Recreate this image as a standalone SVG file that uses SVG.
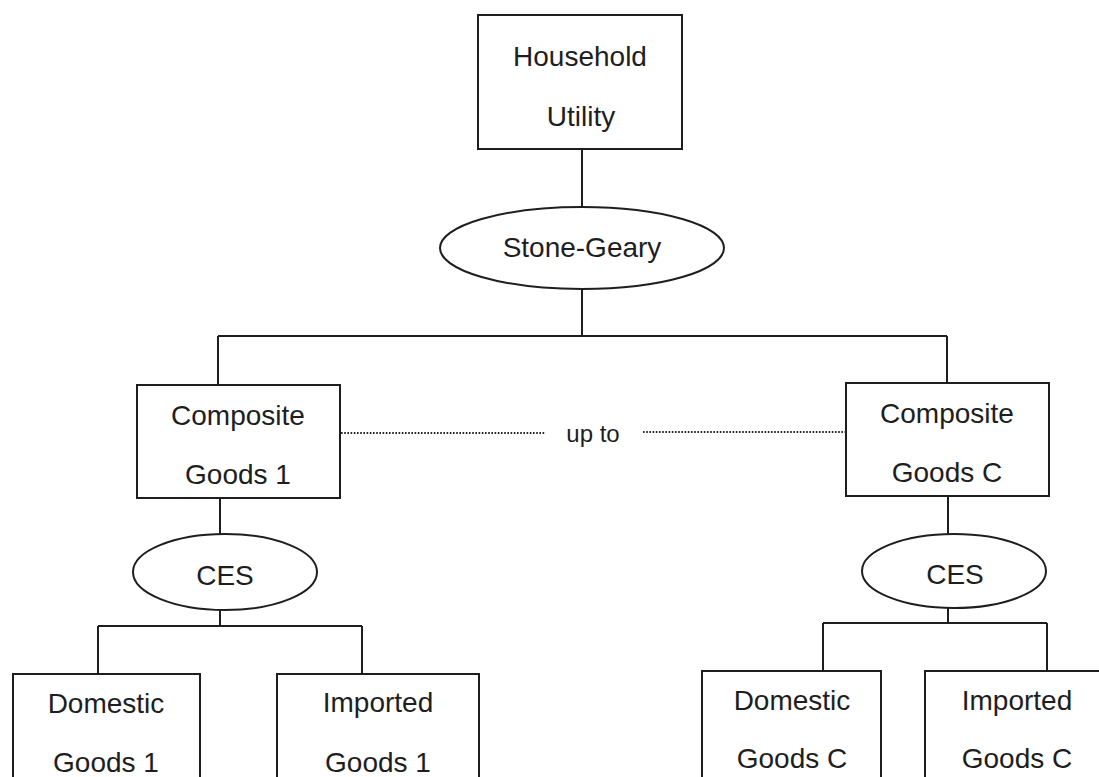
<svg xmlns="http://www.w3.org/2000/svg" width="1099" height="777" viewBox="0 0 1099 777">
<style>
.box{fill:#fff;stroke:#1e1e1e;stroke-width:2}
.ell{fill:#fff;stroke:#1e1e1e;stroke-width:2}
.ln{fill:none;stroke:#1e1e1e;stroke-width:2}
.dot{fill:none;stroke:#222;stroke-width:1.8;stroke-dasharray:1.6 1.6}
text{font-family:"Liberation Sans",Arial,sans-serif;font-size:28px;fill:#1e1e1e;text-anchor:middle}
</style>
<rect width="1099" height="777" fill="#fff"/>
<g id="connectors">
<path class="ln" d="M582 149V207M582 288V336M218 336H947M218 336V385M947 336V383"/>
<path class="ln" d="M220 498V534M220 610V626M98 626H362M98 626V674M362 626V674"/>
<path class="ln" d="M948 496V534M948 608V623M823 623H1047M823 623V671M1047 623V671"/>
<path class="dot" d="M341 433H545"/>
<path class="dot" d="M643 432H845"/>
<text x="593" y="442" style="font-size:24px">up to</text>
</g>
<g id="household">
<rect class="box" x="478" y="15" width="204" height="134"/>
<text x="580" y="66">Household</text>
<text x="581" y="126">Utility</text>
</g>
<g id="stonegeary">
<ellipse class="ell" cx="582" cy="248" rx="142" ry="41"/>
<text x="582" y="257">Stone-Geary</text>
</g>
<g id="composite1">
<rect class="box" x="137" y="385" width="203" height="113"/>
<text x="238" y="425">Composite</text>
<text x="238" y="484">Goods 1</text>
</g>
<g id="compositeC">
<rect class="box" x="846" y="383" width="203" height="113"/>
<text x="947" y="423">Composite</text>
<text x="947" y="482">Goods C</text>
</g>
<g id="ces1">
<ellipse class="ell" cx="225" cy="572" rx="92" ry="38"/>
<text x="225" y="585">CES</text>
</g>
<g id="cesC">
<ellipse class="ell" cx="954" cy="571" rx="92" ry="37"/>
<text x="955" y="584">CES</text>
</g>
<g id="domestic1">
<rect class="box" x="13" y="674" width="187" height="120"/>
<text x="106" y="713">Domestic</text>
<text x="106" y="772">Goods 1</text>
</g>
<g id="imported1">
<rect class="box" x="277" y="674" width="202" height="120"/>
<text x="378" y="712">Imported</text>
<text x="378" y="772">Goods 1</text>
</g>
<g id="domesticC">
<rect class="box" x="702" y="671" width="179" height="120"/>
<text x="792" y="710">Domestic</text>
<text x="792" y="768">Goods C</text>
</g>
<g id="importedC">
<rect class="box" x="925" y="671" width="190" height="120"/>
<text x="1017" y="710">Imported</text>
<text x="1017" y="768">Goods C</text>
</g>
</svg>
